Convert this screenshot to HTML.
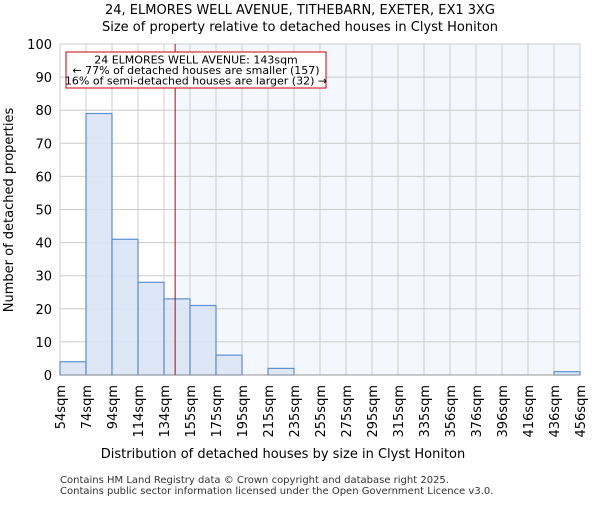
<!DOCTYPE html>
<html><head><meta charset="utf-8"><style>
body{margin:0;background:#fff;font-family:"Liberation Sans","DejaVu Sans",sans-serif}
svg text{font-family:"DejaVu Sans","Liberation Sans",sans-serif}
</style></head><body>
<svg id="c" width="600" height="500">
<text x="300" y="14" text-anchor="middle" font-size="13">24, ELMORES WELL AVENUE, TITHEBARN, EXETER, EX1 3XG</text>
<text x="300" y="31" text-anchor="middle" font-size="13">Size of property relative to detached houses in Clyst Honiton</text>
<g id="plot"></g>
<text x="283" y="458" text-anchor="middle" font-size="13">Distribution of detached houses by size in Clyst Honiton</text>
<text transform="translate(13,210) rotate(-90)" text-anchor="middle" font-size="13">Number of detached properties</text>
<text x="60" y="483" font-size="10" fill="#333">Contains HM Land Registry data © Crown copyright and database right 2025.</text>
<text x="60" y="494" font-size="10" fill="#333">Contains public sector information licensed under the Open Government Licence v3.0.</text>
</svg>
<script>
const binLabels=["54sqm","74sqm","94sqm","114sqm","134sqm","155sqm","175sqm","195sqm","215sqm","235sqm","255sqm","275sqm","295sqm","315sqm","335sqm","356sqm","376sqm","396sqm","416sqm","436sqm","456sqm"];
const binEdges=[54,74,94,114,134,155,175,195,215,235,255,275,295,315,335,356,376,396,416,436,456];
const counts=[4,79,41,28,23,21,6,0,2,0,0,0,0,0,0,0,0,0,0,1];
const yTicks=[0,10,20,30,40,50,60,70,80,90,100];
const subjectSize=143;
const NS="http://www.w3.org/2000/svg";
const X0=60,X1=580,Y0=375,Y1=44,bw=(X1-X0)/counts.length;
const xs=i=>X0+i*bw;
const ys=v=>Y0-(v/100)*(Y0-Y1);
function sizeX(s){for(let i=0;i<binEdges.length-1;i++){if(s<=binEdges[i+1])return xs(i+(s-binEdges[i])/(binEdges[i+1]-binEdges[i]));}return X1;}
const g=document.getElementById('plot');
function mk(t,a){const e=document.createElementNS(NS,t);for(const k in a)e.setAttribute(k,a[k]);g.appendChild(e);return e;}
const lx=sizeX(subjectSize);
let e=mk('rect',{x:lx,y:Y1,width:X1-lx,height:Y0-Y1,fill:'#f4f7fd'});


for(let i=0;i<=counts.length;i++){e=mk('line',{x1:xs(i),x2:xs(i),y1:Y1,y2:Y0,stroke:'#ccc','stroke-width':1});

}
yTicks.forEach(t=>{e=mk('line',{x1:X0,x2:X1,y1:ys(t),y2:ys(t),stroke:'#ccc','stroke-width':1});


e=mk('text',{x:X0-8,y:ys(t)+5,'text-anchor':'end','font-size':13});e.textContent=t;

});
counts.forEach((v,i)=>{if(v<=0)return;e=mk('rect',{x:xs(i),y:ys(v),width:bw,height:Y0-ys(v),fill:'#dae4f4','fill-opacity':0.9,stroke:'#5b8fd6','stroke-width':1.2});

});
e=mk('line',{x1:X0,x2:X1,y1:Y0,y2:Y0,stroke:'#999','stroke-width':1});


binLabels.forEach((l,i)=>{e=mk('text',{transform:`translate(${xs(i)+5},${Y0+10}) rotate(-90)`,'text-anchor':'end','font-size':13});e.textContent=l;

});
e=mk('line',{x1:lx,x2:lx,y1:Y1,y2:Y0,stroke:'#cc0000','stroke-width':1});


e=mk('rect',{x:66,y:52,width:260,height:36,fill:'#fff',stroke:'#cc0000','stroke-width':1});


["24 ELMORES WELL AVENUE: 143sqm","← 77% of detached houses are smaller (157)","16% of semi-detached houses are larger (32) →"].forEach((t,i)=>{e=mk('text',{x:196,y:63.5+i*10.5,'text-anchor':'middle','font-size':11});e.textContent=t;

});
</script>
</body></html>
